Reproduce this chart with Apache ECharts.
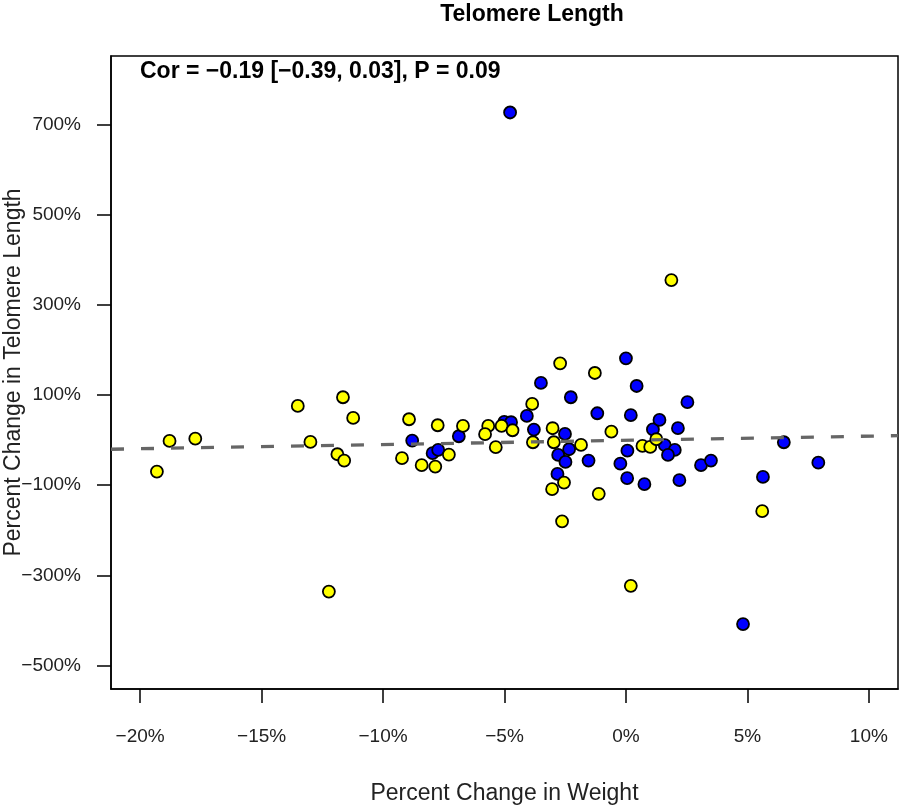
<!DOCTYPE html>
<html>
<head>
<meta charset="utf-8">
<script src="https://cdn.jsdelivr.net/npm/echarts@6/dist/echarts.min.js"></script>
<style>html,body{margin:0;padding:0;background:#fff}#c{width:900px;height:807px}</style>
</head>
<body>
<div id="c"></div>
<script>
const chartTitle = 'Telomere Length';
const corText = 'Cor = \u22120.19 [\u22120.39, 0.03], P = 0.09';
const xAxisTitle = 'Percent Change in Weight';
const yAxisTitle = 'Percent Change in Telomere Length';
const xTicks = [-20, -15, -10, -5, 0, 5, 10];
const yTicks = [-500, -300, -100, 100, 300, 500, 700];

const yellowX = [-19.31,-18.79,-17.73,-13.51,-12.99,-11.65,-11.23,-11.88,-11.60,-12.23,
  -9.22,-8.93,-7.75,-8.41,-7.85,-7.29,-6.71,-5.67,-5.80,-5.36,
  -5.12,-4.67,-3.86,-3.83,-2.71,-3.02,-2.97,-1.85,-2.55,-3.04,
  -1.12,-2.63,-1.28,-0.60,0.20,1.87,0.68,1.00,1.25,5.61];
const yellowY = [-69.8,-1.8,3.3,75.8,-4.0,95.1,49.2,-31.3,-45.4,-335.8,
  -40.1,46.3,33.0,-55.6,-58.7,-32.1,31.5,31.5,13.1,-15.7,
  31.5,21.9,80.2,-4.7,170.4,26.4,-4.7,-10.6,-94.2,-108.8,
  -119.2,-180.2,148.9,18.8,-323.1,355.1,-12.9,-15.1,2.0,-157.6];

const blueX = [-4.77,-8.80,-7.96,-7.73,-6.88,-5.01,-4.73,-4.08,-3.79,-3.50,
  -2.27,-2.51,-2.34,-2.79,-2.49,-1.54,-2.82,-1.18,0.00,0.44,
  0.20,0.06,-0.23,0.05,0.76,1.11,1.38,2.14,2.53,1.60,
  2.01,1.73,2.20,3.09,3.50,5.64,6.50,7.92,4.82];
const blueY = [726.7,-1.1,-29.0,-21.7,8.6,40.3,39.7,53.6,23.3,126.8,
  95.1,13.7,-20.2,-32.8,-48.3,-45.4,-74.9,59.6,181.5,120.1,
  55.4,-23.3,-52.3,-84.4,-97.7,23.7,44.8,26.6,84.2,-11.3,
  -21.7,-32.8,-88.9,-55.6,-45.4,-81.6,-4.7,-49.9,-408.0];

const fitX = [-21.2, 11.2];
const fitY = [-20.2, 10.0];

const xLimits = [-21.2, 11.2];
const yLimits = [-552, 852];

function pairs(xs, ys) { return xs.map((x, i) => [x, ys[i]]); }
function pct(v) { return (v < 0 ? '\u2212' + Math.abs(v) : String(v)) + '%'; }

const FONT = '"Liberation Sans", Arial, Helvetica, sans-serif';
const chart = echarts.init(document.getElementById('c'), null, {renderer: 'canvas'});
const pointStyle = (c) => ({color: c, borderColor: '#000', borderWidth: 1.8, opacity: 1});

chart.setOption({
  animation: false,
  backgroundColor: '#fff',
  grid: {left: 111, right: 2, top: 56, bottom: 118, show: true, borderColor: '#000', borderWidth: 1.5, backgroundColor: 'transparent', outerBoundsMode: 'none'},
  xAxis: {
    type: 'value', min: xLimits[0], max: xLimits[1],
    splitLine: {show: false},
    axisLine: {show: true, onZero: false, lineStyle: {color: '#000', width: 1.5}},
    axisTick: {show: true, customValues: xTicks, length: 14, inside: false, lineStyle: {color: '#000', width: 1.5}},
    axisLabel: {customValues: xTicks, formatter: pct, margin: 38, color: '#222', fontSize: 19, fontFamily: FONT, showMinLabel: true, showMaxLabel: true},
    name: xAxisTitle, nameLocation: 'middle', nameGap: 93, nameMoveOverlap: false,
    nameTextStyle: {fontSize: 23, fontFamily: FONT, color: '#222'}
  },
  yAxis: {
    type: 'value', min: yLimits[0], max: yLimits[1],
    splitLine: {show: false},
    axisLine: {show: true, onZero: false, lineStyle: {color: '#000', width: 1.5}},
    axisTick: {show: true, customValues: yTicks, length: 14, inside: false, lineStyle: {color: '#000', width: 1.5}},
    axisLabel: {customValues: yTicks, formatter: pct, margin: 30, color: '#222', fontSize: 19, fontFamily: FONT, showMinLabel: true, showMaxLabel: true},
    name: yAxisTitle, nameLocation: 'middle', nameGap: 86, nameRotate: 90, nameMoveOverlap: false,
    nameTextStyle: {fontSize: 23, fontFamily: FONT, color: '#222'}
  },
  graphic: [
    {type: 'text', x: 532, y: 15, style: {text: chartTitle, font: 'bold 23px ' + FONT, fill: '#000', textAlign: 'center', textVerticalAlign: 'middle'}},
    {type: 'text', x: 140, y: 72, style: {text: corText, font: 'bold 23px ' + FONT, fill: '#000', textAlign: 'left', textVerticalAlign: 'middle'}}
  ],
  series: [
    {type: 'scatter', name: 'blue', data: pairs(blueX, blueY), symbol: 'circle', symbolSize: 12, itemStyle: pointStyle('#0000ff'), z: 2, emphasis: {disabled: true}},
    {type: 'scatter', name: 'yellow', data: pairs(yellowX, yellowY), symbol: 'circle', symbolSize: 12, itemStyle: pointStyle('#ffff00'), z: 3, emphasis: {disabled: true}},
    {type: 'line', name: 'fit', data: pairs(fitX, fitY), symbol: 'none', z: 4, lineStyle: {color: '#666', width: 3.3, type: [13, 17], cap: 'butt'}, emphasis: {disabled: true}, silent: true}
  ]
});
</script>
</body>
</html>
